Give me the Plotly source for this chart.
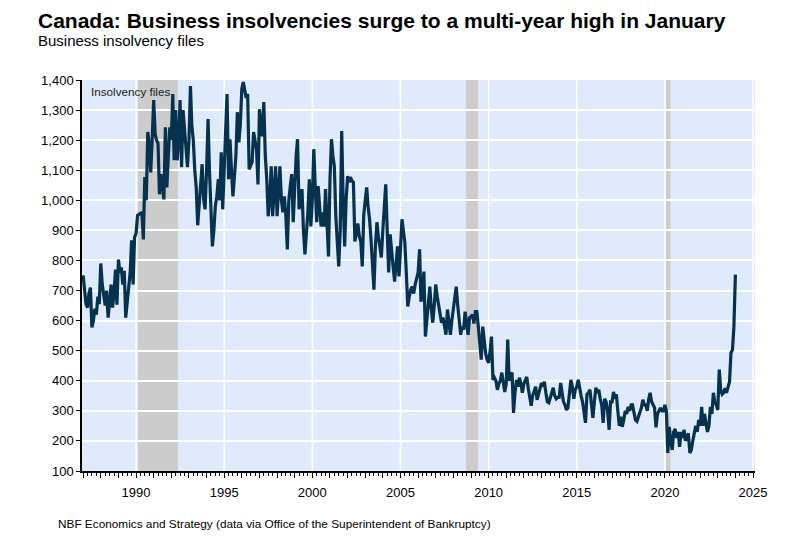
import pandas as pd
import plotly.graph_objects as go

# Monthly business insolvency files, Jan 1987 - Jan 2024
v1987 = [750, 700, 655, 643, 690, 710, 577, 600, 640, 620, 680, 655]
v1988 = [790, 720, 690, 650, 700, 610, 660, 720, 643, 690, 770, 653]
v1989 = [803, 760, 777, 720, 766, 610, 660, 700, 760, 867, 720, 877]
v1990 = [890, 950, 953, 955, 960, 870, 1077, 1000, 1227, 1187, 1093, 1200]
v1991 = [1333, 1220, 1200, 1190, 1020, 1087, 1050, 1003, 1243, 1043, 1150, 1243]
v1992 = [1200, 1353, 1133, 1300, 1133, 1200, 1333, 1110, 1300, 1243, 1190, 1110]
v1993 = [1200, 1380, 1250, 1200, 1100, 1043, 917, 1000, 1043, 1120, 1003, 970]
v1994 = [1100, 1270, 1103, 1000, 847, 900, 980, 1013, 1070, 1000, 1160, 970]
v1995 = [1100, 1250, 1353, 1070, 1203, 1100, 1013, 1077, 1150, 1293, 1193, 1250]
v1996 = [1370, 1393, 1360, 1340, 1353, 1103, 1115, 1127, 1227, 1200, 1170, 1053]
v1997 = [1303, 1250, 1213, 1327, 1150, 1070, 947, 1000, 1113, 947, 1050, 1113]
v1998 = [947, 1050, 1113, 1000, 960, 1013, 950, 837, 1000, 1047, 1087, 927]
v1999 = [1047, 1150, 1203, 970, 1000, 1037, 900, 820, 893, 960, 1070, 913]
v2000 = [1000, 1170, 1050, 927, 1047, 960, 913, 960, 913, 1037, 900, 813]
v2001 = [1070, 1203, 1150, 1113, 950, 860, 780, 900, 1230, 1000, 847, 1000]
v2002 = [1080, 1060, 1077, 1065, 1060, 863, 900, 923, 880, 863, 780, 950]
v2003 = [1000, 1043, 980, 937, 870, 803, 703, 850, 927, 880, 837, 810]
v2004 = [900, 980, 1053, 900, 760, 887, 820, 780, 730, 790, 847, 747]
v2005 = [850, 937, 900, 860, 760, 647, 680, 703, 713, 690, 720, 737]
v2006 = [760, 837, 663, 700, 763, 547, 600, 650, 713, 640, 593, 650]
v2007 = [720, 680, 650, 620, 593, 610, 580, 553, 637, 590, 553, 600]
v2008 = [637, 680, 713, 650, 600, 553, 580, 570, 630, 600, 553, 610]
v2009 = [613, 620, 590, 630, 630, 580, 537, 470, 580, 520, 490, 470]
v2010 = [460, 500, 547, 403, 410, 400, 370, 390, 400, 427, 400, 363]
v2011 = [390, 537, 400, 420, 427, 293, 360, 403, 380, 410, 390, 360]
v2012 = [390, 400, 413, 375, 340, 317, 350, 370, 380, 337, 360, 380]
v2013 = [393, 380, 397, 360, 330, 327, 345, 363, 377, 350, 340, 345]
v2014 = [345, 393, 360, 330, 320, 303, 310, 350, 403, 380, 340, 370]
v2015 = [380, 403, 370, 350, 330, 300, 260, 355, 360, 370, 330, 277]
v2016 = [330, 377, 360, 370, 340, 320, 260, 340, 330, 300, 237, 330]
v2017 = [330, 363, 340, 355, 300, 250, 280, 247, 270, 300, 290, 313]
v2018 = [300, 320, 320, 290, 270, 265, 280, 290, 310, 337, 320, 320]
v2019 = [300, 340, 360, 330, 320, 310, 245, 290, 300, 310, 300, 300]
v2020 = [320, 300, 160, 247, 200, 170, 230, 240, 210, 230, 180, 230]
v2021 = [210, 237, 200, 215, 225, 160, 170, 200, 227, 250, 230, 270]
v2022 = [250, 313, 250, 290, 260, 230, 250, 313, 290, 360, 330, 320]
v2023 = [303, 437, 370, 355, 360, 375, 360, 380, 397, 493, 503, 580]
v2024 = [753]

years = [v1987, v1988, v1989, v1990, v1991, v1992, v1993, v1994, v1995, v1996,
         v1997, v1998, v1999, v2000, v2001, v2002, v2003, v2004, v2005, v2006,
         v2007, v2008, v2009, v2010, v2011, v2012, v2013, v2014, v2015, v2016,
         v2017, v2018, v2019, v2020, v2021, v2022, v2023, v2024]
values = [v for yr in years for v in yr]
dates = pd.date_range("1987-01-01", periods=len(values), freq="MS")

# Recession periods
recessions = [("1990-02-10", "1992-05-15"), ("2008-09-20", "2009-05-25"), ("2020-01-25", "2020-04-28")]

tick_years = list(range(1987, 2026))
tick_vals = [f"{y}-01-01" for y in tick_years]
tick_text = [str(y) if y % 5 == 0 else "" for y in tick_years]
grid_years = [1990, 1995, 2000, 2005, 2010, 2015, 2020, 2025]

fig = go.Figure()
fig.add_trace(go.Scatter(x=dates, y=values, mode="lines",
                         line=dict(color="#06314F", width=3.2),
                         hoverinfo="x+y", showlegend=False))

shapes = []
for gy in grid_years:
    shapes.append(dict(type="line", xref="x", yref="paper", x0=f"{gy}-01-01", x1=f"{gy}-01-01",
                       y0=0, y1=1, line=dict(color="white", width=1.5), layer="below"))
for s, e in recessions:
    shapes.append(dict(type="rect", xref="x", yref="paper", x0=s, x1=e, y0=0, y1=1,
                       fillcolor="#CCCCCC", line=dict(width=0), layer="below"))

fig.update_layout(
    width=791, height=551,
    margin=dict(l=74, r=44, t=72, b=88),
    paper_bgcolor="white",
    plot_bgcolor="#DFEBFC",
    font=dict(family="Liberation Sans, Arial, sans-serif", color="#000000"),
    shapes=shapes,
    annotations=[
        dict(text="<b>Canada: Business insolvencies surge to a multi-year high in January</b>",
             xref="paper", yref="paper", x=-0.068, y=1.0, xanchor="left", yanchor="bottom",
             yshift=46, showarrow=False, font=dict(size=21, color="#000000")),
        dict(text="Business insolvency files", xref="paper", yref="paper", x=-0.068, y=1.0,
             xanchor="left", yanchor="bottom", yshift=29, showarrow=False,
             font=dict(size=15, color="#000000")),
        dict(text="Insolvency files", xref="paper", yref="paper", x=0.010, y=1.0,
             xanchor="left", yanchor="top", yshift=-3, showarrow=False,
             font=dict(size=11.7, color="#1a1a1a")),
        dict(text="NBF Economics and Strategy (data via Office of the Superintendent of Bankruptcy)",
             xref="paper", yref="paper", x=-0.039, y=0, xanchor="left", yanchor="top",
             yshift=-44, showarrow=False, font=dict(size=11.8, color="#000000")),
    ],
)

fig.update_xaxes(
    type="date", range=["1986-12-08", "2025-02-10"],
    tickmode="array", tickvals=tick_vals, ticktext=tick_text,
    ticks="outside", ticklen=5, tickwidth=1, tickcolor="black",
    ticklabelstandoff=4,
    showgrid=False, showline=True, linecolor="black", linewidth=1.5,
    tickfont=dict(size=13, color="#000000"),
    minor=dict(dtick="M3", tick0="1987-01-01", ticks="outside", ticklen=3,
               tickcolor="black", showgrid=False),
    zeroline=False,
)
fig.update_yaxes(
    range=[100, 1400], dtick=100, tick0=100, tickformat=",d",
    ticks="outside", ticklen=4, tickcolor="black",
    showgrid=True, gridcolor="white", gridwidth=1.5,
    showline=True, linecolor="black", linewidth=1.5,
    tickfont=dict(size=13, color="#000000"), zeroline=False,
)

fig.write_html("out.html")
